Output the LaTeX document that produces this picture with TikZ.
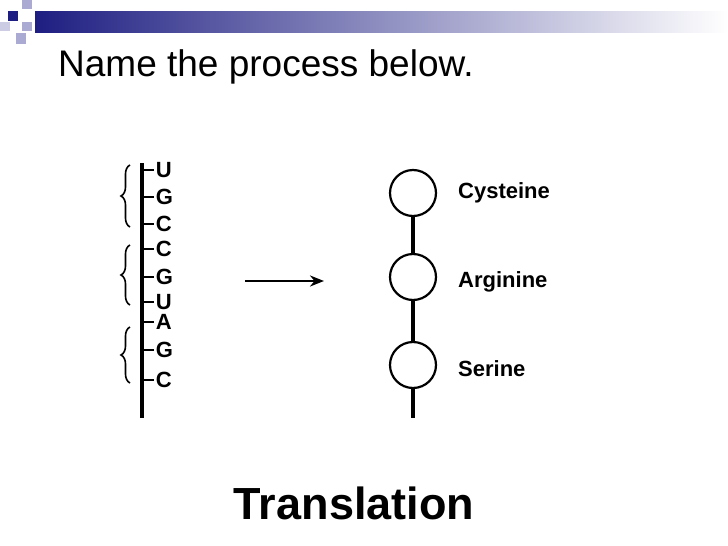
\documentclass[tikz,border=0pt]{standalone}
\usepackage{fontspec}
\setmainfont{Liberation Sans}
\usetikzlibrary{decorations.pathreplacing,arrows.meta}
\definecolor{hdr}{RGB}{30,30,130}
\definecolor{sq}{RGB}{170,170,210}
\begin{document}
\begin{tikzpicture}[x=1pt,y=-1pt,
  lab/.style={font=\fontsize{22}{24}\selectfont\bfseries,anchor=west,inner sep=0},
  base/.style={font=\fontsize{22}{24}\selectfont\bfseries,anchor=west,inner sep=0},
  res/.style={circle,draw,line width=2.2pt,minimum size=46,inner sep=0}]
\useasboundingbox (0,0) rectangle (728,546);
\fill[white] (0,0) rectangle (728,546);
\shade[left color=hdr,right color=white] (35,11) rectangle (728,32);
\fill[hdr] (8,11) rectangle (18,21);
\fill[sq] (22,0) rectangle (32,9);
\fill[sq] (22,22) rectangle (32,31);
\fill[sq] (16,33) rectangle (26,44);
\fill[sq!60] (0,22) rectangle (10,31);
\node[anchor=west,inner sep=0,font=\fontsize{37}{40}\selectfont] (title) at (58,67) {Name the process below.};
% mRNA
\coordinate (mt) at (142,163);
\coordinate (mb) at (142,418);
\draw[line width=3.5pt] (mt) -- (mb);
\foreach \y/\b [count=\i] in {170/U,197/G,224/C,249/C,277/G,302/U,322/A,350/G,380/C}{
  \coordinate (t\i) at (142,\y);
  \draw[line width=1.6pt] (t\i) -- ++(12,0) node[base,inner sep=1pt] (b\i) {\b};
}
\foreach \a/\c in {165/227,245/305,327/383}
  \draw[line width=1.6pt,decorate,decoration={brace,amplitude=9pt,mirror}] (130,\a) -- (130,\c);
% arrow
\coordinate (a1) at (245,281);
\coordinate (a2) at (324,281);
\draw[line width=2.5pt,-{Stealth[length=14pt,width=11pt]}] (a1) -- (a2);
% protein
\node[res] (c1) at (413,193) {};
\node[res] (c2) at (413,277) {};
\node[res] (c3) at (413,365) {};
\coordinate (pe) at (413,418);
\draw[line width=3.5pt] (c1) -- (c2);
\draw[line width=3.5pt] (c2) -- (c3);
\draw[line width=3.5pt] (c3) -- (pe);
\node[lab] (l1) at (458,193) {Cysteine};
\node[lab] (l2) at (458,282) {Arginine};
\node[lab] (l3) at (458,369) {Serine};
\node[font=\fontsize{45}{48}\selectfont\bfseries,inner sep=0] (tr) at (354,503) {Translation};
\end{tikzpicture}
\end{document}
